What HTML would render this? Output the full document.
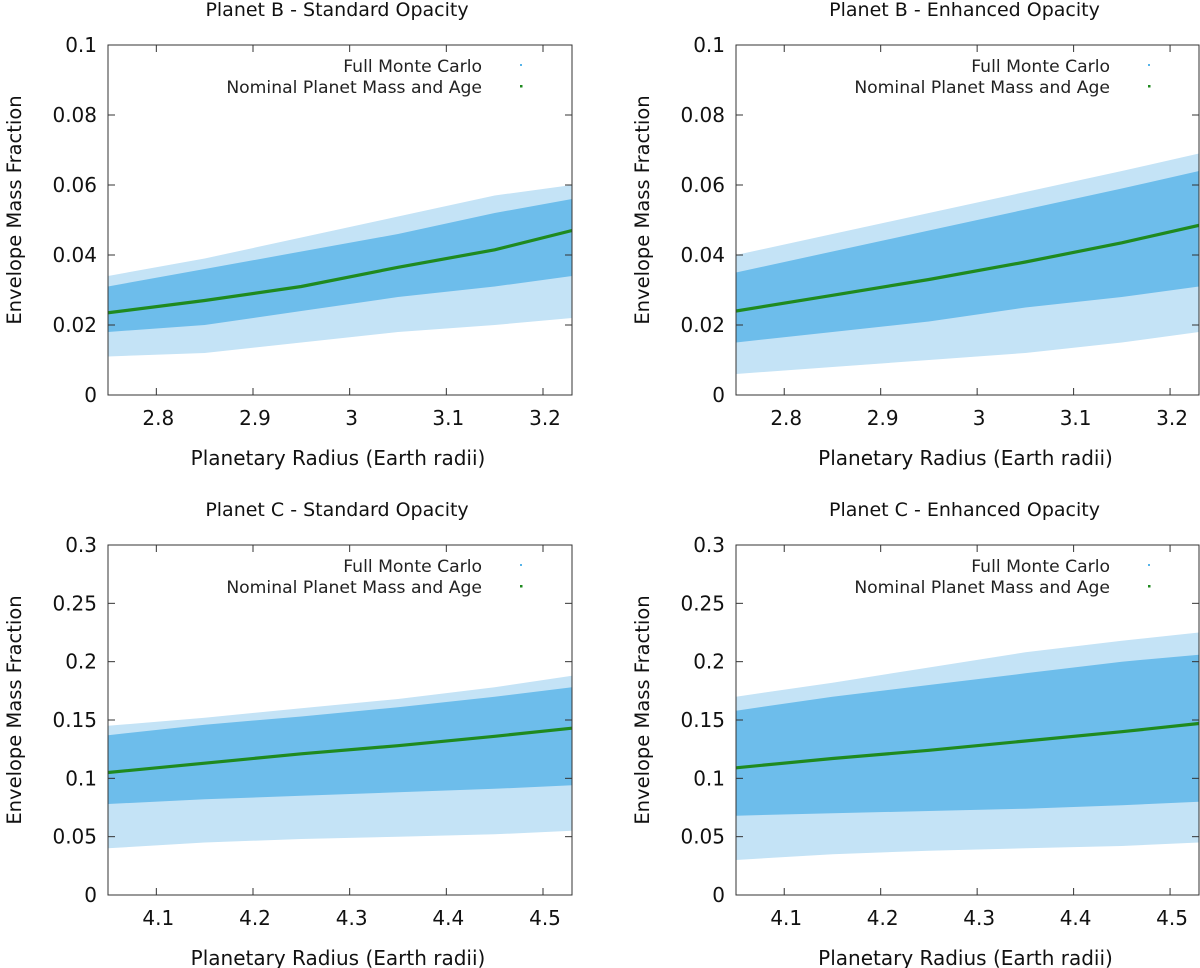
<!DOCTYPE html>
<html><head><meta charset="utf-8"><style>
html,body{margin:0;padding:0;background:#fff;}
svg{display:block;font-family:"DejaVu Sans","Liberation Sans",sans-serif;}
</style></head><body>
<svg id="fig" width="1200" height="968" viewBox="0 0 1200 968"></svg>
<script>
// ---- data arrays ----
const xsB = [2.75, 2.85, 2.95, 3.05, 3.15, 3.23];
const xsC = [4.05, 4.15, 4.25, 4.35, 4.45, 4.53];
const xTicksB = [2.8, 2.9, 3.0, 3.1, 3.2];
const xTickLabelsB = ["2.8", "2.9", "3", "3.1", "3.2"];
const xTicksC = [4.1, 4.2, 4.3, 4.4, 4.5];
const xTickLabelsC = ["4.1", "4.2", "4.3", "4.4", "4.5"];
const yTicksB = [0, 0.02, 0.04, 0.06, 0.08, 0.1];
const yTickLabelsB = ["0", "0.02", "0.04", "0.06", "0.08", "0.1"];
const yTicksC = [0, 0.05, 0.1, 0.15, 0.2, 0.25, 0.3];
const yTickLabelsC = ["0", "0.05", "0.1", "0.15", "0.2", "0.25", "0.3"];

const bStdLine = [0.0235, 0.027, 0.031, 0.0365, 0.0415, 0.047];
const bStdCoreHi = [0.031, 0.036, 0.041, 0.046, 0.052, 0.056];
const bStdCoreLo = [0.018, 0.020, 0.024, 0.028, 0.031, 0.034];
const bStdOuterHi = [0.034, 0.039, 0.045, 0.051, 0.057, 0.060];
const bStdOuterLo = [0.011, 0.012, 0.015, 0.018, 0.020, 0.022];

const bEnhLine = [0.024, 0.0285, 0.033, 0.038, 0.0435, 0.0485];
const bEnhCoreHi = [0.035, 0.041, 0.047, 0.053, 0.059, 0.064];
const bEnhCoreLo = [0.015, 0.018, 0.021, 0.025, 0.028, 0.031];
const bEnhOuterHi = [0.040, 0.046, 0.052, 0.058, 0.064, 0.069];
const bEnhOuterLo = [0.006, 0.008, 0.010, 0.012, 0.015, 0.018];

const cStdLine = [0.105, 0.113, 0.121, 0.128, 0.136, 0.143];
const cStdCoreHi = [0.137, 0.146, 0.153, 0.161, 0.170, 0.178];
const cStdCoreLo = [0.078, 0.082, 0.085, 0.088, 0.091, 0.094];
const cStdOuterHi = [0.145, 0.152, 0.160, 0.168, 0.178, 0.188];
const cStdOuterLo = [0.040, 0.045, 0.048, 0.050, 0.052, 0.055];

const cEnhLine = [0.109, 0.117, 0.124, 0.132, 0.140, 0.147];
const cEnhCoreHi = [0.158, 0.170, 0.180, 0.190, 0.200, 0.206];
const cEnhCoreLo = [0.068, 0.070, 0.072, 0.074, 0.077, 0.080];
const cEnhOuterHi = [0.170, 0.182, 0.195, 0.208, 0.218, 0.225];
const cEnhOuterLo = [0.030, 0.035, 0.038, 0.040, 0.042, 0.045];

const NS = "http://www.w3.org/2000/svg";
const svg = document.getElementById("fig");
function mk(tag, attrs, parent) {
  const e = document.createElementNS(NS, tag);
  for (const k in attrs) e.setAttribute(k, attrs[k]);
  (parent || svg).appendChild(e);
  return e;
}

function panel(cfg) {
  const g = mk("g", {});
  
  
  const L = cfg.box[0], R = cfg.box[1], T = cfg.box[2], B = cfg.box[3];
  const sx = v => L + (v - cfg.xd[0]) / (cfg.xd[1] - cfg.xd[0]) * (R - L);
  const sy = v => B - (v - cfg.yd[0]) / (cfg.yd[1] - cfg.yd[0]) * (B - T);
  const clipId = cfg.name + "-clip";
  const defs = mk("defs", {}, g);
  const cp = mk("clipPath", { id: clipId }, defs);
  mk("rect", { x: L, y: T, width: R - L, height: B - T }, cp);
  const area = mk("g", { "clip-path": "url(#" + clipId + ")" }, g);

  function band(hi, lo, fill, nm) {
    let d = "";
    cfg.xs.forEach((x, i) => { d += (i ? "L" : "M") + sx(x).toFixed(1) + "," + sy(hi[i]).toFixed(1); });
    for (let i = cfg.xs.length - 1; i >= 0; i--) d += "L" + sx(cfg.xs[i]).toFixed(1) + "," + sy(lo[i]).toFixed(1);
    d += "Z";
    const p = mk("path", { d: d, fill: fill }, area);
    
    
  }
  band(cfg.outerHi, cfg.outerLo, "#c4e3f6", "monte-carlo-sparse-band");
  band(cfg.coreHi, cfg.coreLo, "#6dbdeb", "monte-carlo-core-band");

  let d = "";
  cfg.xs.forEach((x, i) => { d += (i ? "L" : "M") + sx(x).toFixed(1) + "," + sy(cfg.line[i]).toFixed(1); });
  const ln = mk("path", { d: d, fill: "none", stroke: "#1f8a1f", "stroke-width": 3.2 }, area);
  
  

  const fr = mk("rect", { x: L, y: T, width: R - L, height: B - T, fill: "none", stroke: "#333", "stroke-width": 1 }, g);
  
  

  cfg.xt.forEach((v, i) => {
    const X = sx(v);
    mk("line", { x1: X, x2: X, y1: B, y2: B - 7, stroke: "#333" }, g);
    mk("line", { x1: X, x2: X, y1: T, y2: T + 7, stroke: "#333" }, g);
    const t = mk("text", { x: X + 2, y: B + 30, "text-anchor": "middle", "font-size": 20, fill: "#111" }, g);
    t.textContent = cfg.xl[i];
    
    
  });
  cfg.yt.forEach((v, i) => {
    const Y = sy(v);
    mk("line", { x1: L, x2: L + 7, y1: Y, y2: Y, stroke: "#333" }, g);
    mk("line", { x1: R, x2: R - 7, y1: Y, y2: Y, stroke: "#333" }, g);
    const t = mk("text", { x: L - 11, y: Y + 7, "text-anchor": "end", "font-size": 20, fill: "#111" }, g);
    t.textContent = cfg.yl[i];
    
    
  });
  const tt = mk("text", { x: (L + R) / 2 - 3, y: T - 29, "text-anchor": "middle", "font-size": 19, fill: "#111" }, g);
  tt.textContent = cfg.title;
  
  
  const xt = mk("text", { x: (L + R) / 2 - 2, y: B + 70, "text-anchor": "middle", "font-size": 20, fill: "#111" }, g);
  xt.textContent = "Planetary Radius (Earth radii)";
  
  
  const yx = L - 87, yy = (T + B) / 2 - 10;
  const yt = mk("text", { x: yx, y: yy, "text-anchor": "middle", "font-size": 19.5, fill: "#111", transform: "rotate(-90 " + yx + " " + yy + ")" }, g);
  yt.textContent = "Envelope Mass Fraction";
  
  

  const lx = L + 374;
  const l1 = mk("text", { x: lx, y: T + 27, "text-anchor": "end", "font-size": 17.2, fill: "#222" }, g);
  l1.textContent = "Full Monte Carlo";
  
  
  mk("rect", { x: lx + 38, y: T + 19, width: 2, height: 2, fill: "#56b4e9" }, g);
  const l2 = mk("text", { x: lx, y: T + 48, "text-anchor": "end", "font-size": 17.2, fill: "#222" }, g);
  l2.textContent = "Nominal Planet Mass and Age";
  
  
  mk("rect", { x: lx + 38, y: T + 40, width: 2.5, height: 2.5, fill: "#1f8a1f" }, g);
}

panel({ name: "panel-planet-b-standard", title: "Planet B - Standard Opacity", box: [108, 572, 45, 395], xd: [2.75, 3.23], yd: [0, 0.1],
  xs: xsB, line: bStdLine, coreHi: bStdCoreHi, coreLo: bStdCoreLo, outerHi: bStdOuterHi, outerLo: bStdOuterLo,
  xt: xTicksB, xl: xTickLabelsB, yt: yTicksB, yl: yTickLabelsB });
panel({ name: "panel-planet-b-enhanced", title: "Planet B - Enhanced Opacity", box: [736, 1199, 45, 395], xd: [2.75, 3.23], yd: [0, 0.1],
  xs: xsB, line: bEnhLine, coreHi: bEnhCoreHi, coreLo: bEnhCoreLo, outerHi: bEnhOuterHi, outerLo: bEnhOuterLo,
  xt: xTicksB, xl: xTickLabelsB, yt: yTicksB, yl: yTickLabelsB });
panel({ name: "panel-planet-c-standard", title: "Planet C - Standard Opacity", box: [108, 572, 545, 895], xd: [4.05, 4.53], yd: [0, 0.3],
  xs: xsC, line: cStdLine, coreHi: cStdCoreHi, coreLo: cStdCoreLo, outerHi: cStdOuterHi, outerLo: cStdOuterLo,
  xt: xTicksC, xl: xTickLabelsC, yt: yTicksC, yl: yTickLabelsC });
panel({ name: "panel-planet-c-enhanced", title: "Planet C - Enhanced Opacity", box: [736, 1199, 545, 895], xd: [4.05, 4.53], yd: [0, 0.3],
  xs: xsC, line: cEnhLine, coreHi: cEnhCoreHi, coreLo: cEnhCoreLo, outerHi: cEnhOuterHi, outerLo: cEnhOuterLo,
  xt: xTicksC, xl: xTickLabelsC, yt: yTicksC, yl: yTickLabelsC });
</script>
</body></html>
